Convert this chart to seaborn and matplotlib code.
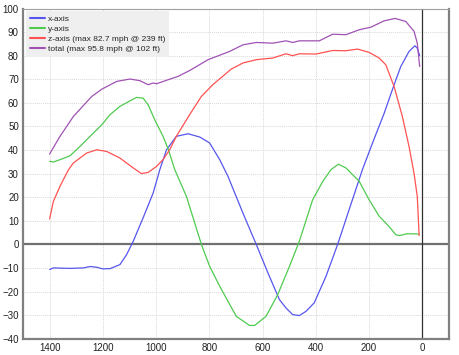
import seaborn as sns
import pandas as pd
import matplotlib.pyplot as plt

# distance (ft) / speed (mph)
x_dist = [1400, 1386, 1323, 1273, 1248, 1223, 1201, 1173, 1136, 1111, 1086, 1049, 1011, 986,
          961, 924, 880, 836, 799, 761, 730, 674, 624, 580, 537, 512, 487, 462, 437, 406,
          362, 318, 275, 225, 187, 143, 106, 81, 50, 28, 19, 10]
x_speed = [-10.7, -10, -10.2, -10, -9.4, -9.7, -10.4, -10.3, -8.6, -4.4, 1.3, 11.2, 21.8, 31.7,
           40.1, 45.8, 46.9, 45.5, 43, 35.9, 28.8, 13.3, 0, -12.1, -23.4, -27, -29.8, -30.2, -28.4, -24.8,
           -13.6, 0, 14.7, 31.7, 43, 55.7, 67.7, 75.4, 81.8, 84.2, 83.2, 80]

y_dist = [1400, 1386, 1354, 1323, 1286, 1248, 1204, 1173, 1136, 1086, 1073, 1049, 1030, 1005,
          974, 955, 930, 886, 830, 799, 761, 699, 649, 630, 587, 543, 499, 462, 412, 374,
          343, 315, 287, 237, 200, 162, 125, 100, 87, 56, 12]
y_speed = [35.2, 34.9, 36.2, 37.6, 41.5, 45.8, 50.7, 55.0, 58.5, 61.6, 62.3, 62.0, 59.2, 52.8,
           45.8, 40.5, 31.7, 20.3, 0, -9.3, -17.8, -30.5, -34.4, -34.4, -30.5, -21.3, -9.3, 1.3, 18.9, 26.7,
           31.7, 34, 32.4, 26.7, 18.9, 11.9, 7.6, 4.1, 3.7, 4.5, 4.4]

z_dist = [1400, 1386, 1361, 1330, 1311, 1261, 1223, 1186, 1136, 1086, 1055, 1030, 998, 974,
          949, 924, 874, 830, 787, 718, 674, 624, 562, 512, 487, 462, 399, 337, 287, 243,
          200, 162, 137, 106, 75, 50, 31, 19, 12]
z_speed = [10.8, 18.2, 24.6, 31.5, 34.5, 38.7, 40.1, 39.4, 36.6, 32.4, 30, 30.5, 33.1, 35.9,
           40.1, 45.8, 55, 62.7, 67.7, 74.3, 76.9, 78.3, 79.0, 80.8, 80.0, 80.8, 80.7, 82.2, 82.1, 82.8,
           81.4, 79.0, 76.1, 66.9, 54.2, 41.5, 30, 20.3, 3.7]

t_dist = [1400, 1361, 1311, 1242, 1204, 1148, 1098, 1061, 1030, 1011, 998, 955, 918, 874,
          805, 724, 674, 624, 562, 512, 487, 462, 387, 337, 287, 237, 193, 143, 102, 62,
          31, 19, 10]
t_speed = [38.3, 45.8, 54.2, 62.7, 65.8, 69.1, 70.1, 69.4, 67.7, 68.4, 68.1, 69.8, 71.2, 73.7,
           78.3, 81.8, 84.6, 85.6, 85.3, 86.3, 85.6, 86.3, 86.3, 89.1, 88.9, 91.0, 92.1, 94.8, 95.8, 94.5,
           90.3, 85.3, 75.4]

labels = ["x-axis", "y-axis", "z-axis (max 82.7 mph @ 239 ft)", "total (max 95.8 mph @ 102 ft)"]
colors = ["#5656ee", "#4fca4f", "#ff5252", "#a052b4"]

frames = []
for lab, d, s in zip(labels, [x_dist, y_dist, z_dist, t_dist], [x_speed, y_speed, z_speed, t_speed]):
  frames.append(pd.DataFrame({"dist": d, "speed": s, "series": lab}))
df = pd.concat(frames, ignore_index=True)

sns.set_style("white")
plt.rcParams["font.family"] = ["Liberation Sans", "DejaVu Sans"]
fig = plt.figure(figsize=(4.6, 3.55), dpi=100)
ax = fig.add_axes([0.05, 0.046, 0.926, 0.93])

ax.axhline(0, color="#707070", lw=1.6, zorder=1)
ax.axvline(0, color="#303030", lw=0.9, zorder=1)

sns.lineplot(data=df, x="dist", y="speed", hue="series", palette=colors, hue_order=labels,
             estimator=None, sort=False, lw=0.9, ax=ax, zorder=3)

ax.set_xlim(1500, -100)
ax.set_ylim(-40, 100)
ax.set_xticks(range(0, 1401, 200))
ax.set_yticks(range(-40, 101, 10))
ax.set_xlabel("")
ax.set_ylabel("")
ax.grid(True, color="#d8d8d8", ls=(0, (1, 1)), lw=0.7)
ax.tick_params(labelsize=7, length=0, pad=3, colors="#222222")
for side in ["left", "bottom", "right"]:
  ax.spines[side].set_color("#808080")
  ax.spines[side].set_linewidth(1.6)
ax.spines["top"].set_color("#a0a0a0")
ax.spines["top"].set_linewidth(0.8)

leg = ax.legend(loc="upper left", fontsize=6, handlelength=1.8, handletextpad=0.4,
                labelspacing=0.25, borderpad=0.45, borderaxespad=0.35, frameon=True,
                fancybox=False, facecolor="#efefef", edgecolor="none", framealpha=1)
for line in leg.get_lines():
  line.set_linewidth(1.5)

fig.savefig("out.png", dpi=100)
